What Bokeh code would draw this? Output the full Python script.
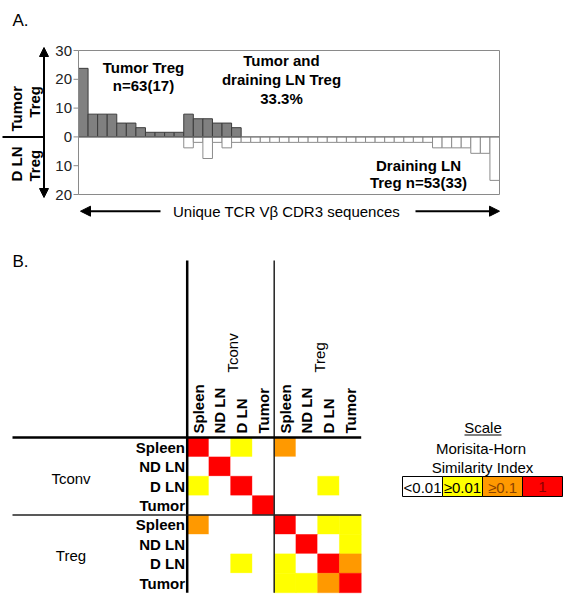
import math
from bokeh.plotting import figure
from bokeh.models import Range1d, Arrow, NormalHead
from bokeh.embed import file_html
from bokeh.resources import INLINE
from bokeh.core.properties import value

FONT = "Liberation Sans"

# ---------------- Panel A data (% of sequences per unique TCR Vb CDR3 clone) ----------------
tumor_only_pct = [23.8, 7.9, 7.9, 7.9, 4.8, 4.8, 3.2, 1.6, 1.6, 1.6, 1.6]
shared_tumor_pct = [7.9, 6.3, 6.3, 4.8, 4.8, 3.2]
shared_dln_pct = [3.8, 1.9, 7.5, 1.9, 3.8, 1.9]
dln_only_pct = [1.9, 1.9, 1.9, 1.9, 1.9, 1.9, 1.9, 1.9, 1.9, 1.9,
                1.9, 1.9, 1.9, 1.9, 1.9, 1.9, 1.9, 1.9, 1.9, 1.9,
                3.8, 3.8, 3.8, 3.8, 5.7, 5.7, 15.1]
y_ticks = [-20, -10, 0, 10, 20, 30]
y_tick_labels = ["20", "10", "0", "10", "20", "30"]

# ---------------- Panel B data (Morisita-Horn similarity class) ----------------
groups = ["Tconv", "Treg"]
tissues = ["Spleen", "ND LN", "D LN", "Tumor"]
# 0: <0.01, 1: >=0.01, 2: >=0.1, 3: 1
sim_class = [
    [3, 0, 1, 0, 2, 0, 0, 0],
    [0, 3, 0, 0, 0, 0, 0, 0],
    [1, 0, 3, 0, 0, 0, 1, 0],
    [0, 0, 0, 3, 0, 0, 0, 0],
    [2, 0, 0, 0, 3, 0, 1, 1],
    [0, 0, 0, 0, 0, 3, 0, 1],
    [0, 0, 1, 0, 1, 0, 3, 2],
    [0, 0, 0, 0, 1, 1, 2, 3],
]
scale_labels = ["<0.01", "\u22650.01", "\u22650.1", "1"]
scale_colors = ["#ffffff", "#ffff00", "#ff9900", "#ff0000"]
scale_text_colors = ["#000000", "#000000", "#8a4200", "#8b0000"]

# ---------------- layout (canvas px) ----------------
W, H = 566, 600
n_tumor_only = len(tumor_only_pct)
n_bars = n_tumor_only + len(shared_tumor_pct) + len(dln_only_pct)
PX_L, PX_R, PY_T, PY_B = 78.0, 499.0, 50.0, 194.0   # bar-chart frame
Y_MIN, Y_MAX = -20, 30
CW, RH = 21.75, 19.4          # heat-map cell size
X0, Y0 = 186.7, 437.0         # heat-map top-left corner
n_t = len(tissues)
n_all = len(groups) * n_t


def ax(px):
    return (px - PX_L) / (PX_R - PX_L) * n_bars


def ay(py):
    return Y_MAX - (py - PY_T) / (PY_B - PY_T) * (Y_MAX - Y_MIN)


def bx(px):
    return (px - X0) / CW


def by(py):
    return (py - Y0) / RH


p = figure(width=W, height=H, output_backend="svg", toolbar_location=None,
           x_range=Range1d(bx(0), bx(W)), y_range=Range1d(by(H), by(0)),
           x_axis_location=None, y_axis_location=None,
           min_border=0, min_border_left=0, min_border_right=0,
           min_border_top=0, min_border_bottom=0)
p.extra_x_ranges = {"bars": Range1d(ax(0), ax(W))}
p.extra_y_ranges = {"pct": Range1d(ay(H), ay(0))}
p.outline_line_color = None
p.grid.visible = False
A = dict(x_range_name="bars", y_range_name="pct")


def txt(x, y, text, size="15px", bold=False, align="center", baseline="middle",
        angle=0.0, color="#000000", panel_a=False):
    kw = A if panel_a else {}
    p.text(x=[x], y=[y], text=[text], text_font=value(FONT), text_font_size=size,
           text_font_style="bold" if bold else "normal", text_align=align,
           text_baseline=baseline, angle=angle, text_color=color, **kw)


# =============================== Panel A ===============================
tumor_vals = tumor_only_pct + shared_tumor_pct
tumor_x = [i + 0.5 for i in range(len(tumor_vals))]
dln_vals = shared_dln_pct + dln_only_pct
dln_x = [n_tumor_only + i + 0.5 for i in range(len(dln_vals))]

p.vbar(x=dln_x, top=0, bottom=[-v for v in dln_vals], width=1,
       fill_color="white", line_color="#8c8c8c", line_width=1, **A)
p.vbar(x=tumor_x, top=tumor_vals, bottom=0, width=1,
       fill_color="#808080", line_color="#3c3c3c", line_width=1, **A)
# zero line and frame
p.segment(x0=[0], y0=[0], x1=[n_bars], y1=[0], line_color="#6e6e6e", line_width=1, **A)
p.quad(left=[0], right=[n_bars], bottom=[Y_MIN], top=[Y_MAX], fill_color=None,
       line_color="#8a8a8a", line_width=1, **A)
# y axis ticks and labels
p.segment(x0=[ax(PX_L - 5)] * len(y_ticks), x1=[0] * len(y_ticks), y0=y_ticks, y1=y_ticks,
          line_color="#8a8a8a", line_width=1, **A)
p.text(x=[ax(PX_L - 6.5)] * len(y_ticks), y=y_ticks, text=y_tick_labels,
       text_align="right", text_baseline="middle", text_font=value(FONT),
       text_font_size="15px", text_color="#222222", **A)

txt(ax(12), ay(20), "A.", size="17px", align="left", panel_a=True)
txt(ax(143), ay(66.6), "Tumor Treg", bold=True, panel_a=True)
txt(ax(143), ay(84.5), "n=63(17)", bold=True, panel_a=True)
txt(ax(281), ay(60.4), "Tumor and", bold=True, panel_a=True)
txt(ax(281), ay(79.2), "draining LN Treg", bold=True, panel_a=True)
txt(ax(281), ay(98.0), "33.3%", bold=True, panel_a=True)
txt(ax(418), ay(164.7), "Draining LN", bold=True, panel_a=True)
txt(ax(418), ay(182.3), "Treg n=53(33)", bold=True, panel_a=True)

# side labels (rotated)
txt(ax(15.5), ay(85.5), "Tumor", bold=True, align="right", angle=math.pi / 2, panel_a=True)
txt(ax(34.0), ay(85.5), "Treg", bold=True, align="right", angle=math.pi / 2, panel_a=True)
txt(ax(15.5), ay(181), "D LN", bold=True, align="left", angle=math.pi / 2, panel_a=True)
txt(ax(34.0), ay(181), "Treg", bold=True, align="left", angle=math.pi / 2, panel_a=True)

p.segment(x0=[ax(2)], y0=[0], x1=[ax(44)], y1=[0], line_color="black", line_width=2, **A)


def head(size):
    return NormalHead(size=size, fill_color="black", line_color="black", line_width=1)


p.add_layout(Arrow(start=head(9), end=head(9),
                   x_start=ax(43.5), y_start=ay(47), x_end=ax(43.5), y_end=ay(197),
                   line_color="black", line_width=2, **A))
p.add_layout(Arrow(end=head(10), x_start=ax(160), y_start=ay(210.7), x_end=ax(80), y_end=ay(210.7),
                   line_color="black", line_width=2, **A))
p.add_layout(Arrow(end=head(10), x_start=ax(415), y_start=ay(210.7), x_end=ax(499), y_end=ay(210.7),
                   line_color="black", line_width=2, **A))
txt(ax(286), ay(210.5), "Unique TCR V\u03b2 CDR3 sequences", panel_a=True)

# =============================== Panel B ===============================
cx, cy, cc = [], [], []
for r, row in enumerate(sim_class):
    for c, k in enumerate(row):
        cx.append(c + 0.5)
        cy.append(r + 0.5)
        cc.append(scale_colors[k])
p.rect(x=cx, y=cy, width=1.0, height=1.0, fill_color=cc, line_color=cc, line_width=0.5)

# separator lines
p.segment(x0=[0, n_t, bx(12), bx(12)], y0=[by(260), by(260), 0, n_t],
          x1=[0, n_t, n_all, n_all], y1=[n_all, n_all, 0, n_t],
          line_color=["#000000", "#222222", "#000000", "#222222"],
          line_width=[2.5, 1.5, 2.5, 1.5])

tissue_labels = tissues * len(groups)
p.text(x=[i + 0.5 for i in range(n_all)], y=[by(433)] * n_all, text=tissue_labels,
       angle=math.pi / 2, text_align="left", text_baseline="middle",
       text_font=value(FONT), text_font_style="bold", text_font_size="15px", text_color="#000000")
p.text(x=[bx(184.5)] * n_all, y=[i + 0.5 for i in range(n_all)], text=tissue_labels,
       text_align="right", text_baseline="middle",
       text_font=value(FONT), text_font_style="bold", text_font_size="15px", text_color="#000000")
p.text(x=[g * n_t + n_t / 2 + 0.08 for g in range(len(groups))], y=[by(372)] * len(groups), text=groups,
       angle=math.pi / 2, text_align="left", text_baseline="middle",
       text_font=value(FONT), text_font_size="15px", text_color="#000000")
p.text(x=[bx(70.5)] * len(groups), y=[g * n_t + n_t / 2 + 0.1 for g in range(len(groups))], text=groups,
       text_align="center", text_baseline="middle",
       text_font=value(FONT), text_font_size="15px", text_color="#000000")

txt(bx(12), by(261), "B.", size="17px", align="left")

# scale legend
txt(bx(482.5), by(427.3), "Scale")
p.segment(x0=[bx(464)], y0=[by(434.5)], x1=[bx(501)], y1=[by(434.5)], line_color="black", line_width=1)
txt(bx(480.5), by(448), "Morisita-Horn")
txt(bx(482), by(466.7), "Similarity Index")
LW = 40.0
L0 = 402.0
lx = [bx(L0 + LW * i + LW / 2) for i in range(len(scale_labels))]
p.rect(x=lx, y=[by(486)] * len(lx), width=LW / CW, height=20 / RH, fill_color=scale_colors,
       line_color="black", line_width=1)
p.text(x=lx, y=[by(486.5)] * len(lx), text=scale_labels, text_color=scale_text_colors,
       text_align="center", text_baseline="middle",
       text_font=value(FONT), text_font_size="15px")

open("out.html", "w").write(file_html(p, INLINE))
